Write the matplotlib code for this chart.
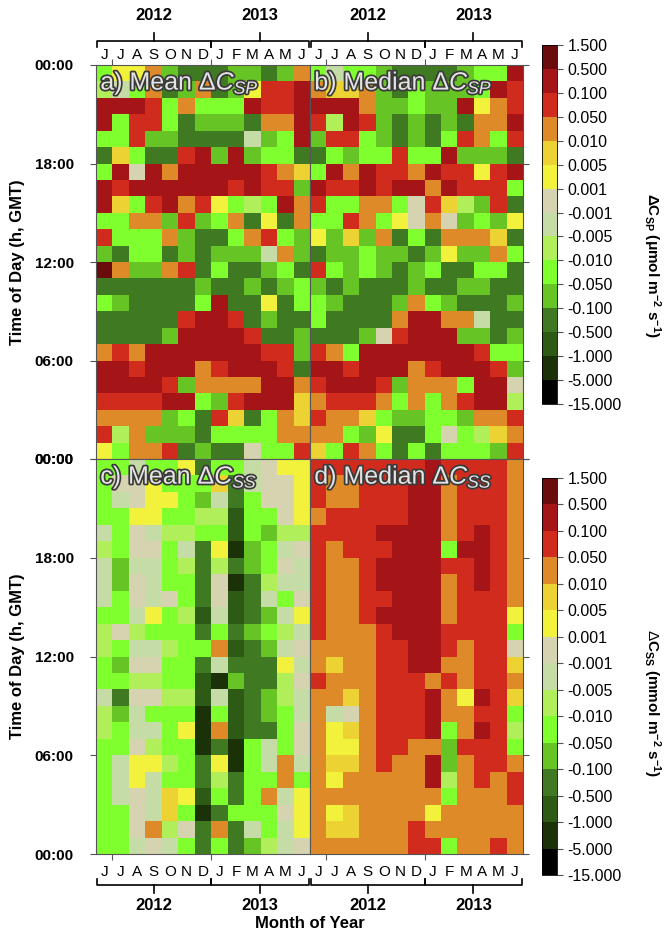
import numpy as np
import matplotlib
matplotlib.use('Agg')
import matplotlib.pyplot as plt
from matplotlib.colors import ListedColormap, BoundaryNorm
from matplotlib import transforms
import matplotlib.patheffects as pe

plt.rcParams['font.family'] = ['Liberation Sans', 'DejaVu Sans']
plt.rcParams['mathtext.fontset'] = 'custom'
plt.rcParams['mathtext.rm'] = 'Liberation Sans'
plt.rcParams['mathtext.it'] = 'Liberation Sans:italic'
plt.rcParams['mathtext.bf'] = 'Liberation Sans:bold'

months = ['J', 'J', 'A', 'S', 'O', 'N', 'D', 'J', 'F', 'M', 'A', 'M', 'J']
years = ['2012', '2013']
hour_ticks = [0, 6, 12, 18, 24]
hour_labels = ['00:00', '06:00', '12:00', '18:00', '00:00']

bounds = [-15, -5, -1, -0.5, -0.1, -0.05, -0.01, -0.005, -0.001,
          0.001, 0.005, 0.01, 0.05, 0.1, 0.5, 1.5]
bound_labels = ['%.3f' % b for b in bounds]
colors = ['#000000', '#1b3108', '#2d5a14', '#3f7a22', '#66c424', '#80ff2e',
          '#b0ef5a', '#c6dca6', '#d5d3b0', '#f2f23c', '#ecd232', '#de8a28',
          '#d12b1e', '#a51416', '#6a0c0c']

# one character per colour class (lowest to highest) and a value inside that class
codes = 'XKDGmglpbydorRM'
code_values = [-10, -3, -0.75, -0.3, -0.075, -0.03, -0.0075, -0.003, 0.0,
               0.003, 0.0075, 0.03, 0.075, 0.3, 1.0]

# rows listed from 23 h (top) down to 0 h, columns Jun 2012 .. Jun 2013
mean_sp = [
    "gyyomGGGmmGmo",
    "lpgoGmoGmyrrR",
    "RRRrgogggRrrR",
    "RgrrgGmmmGooR",
    "ggrmmGGGGpmgR",
    "GdgGGrRmRmggG",
    "gRbRoRRRRRrod",
    "RrRRRRRRrRrrm",
    "RdgrRoryglgRo",
    "ggoomrmgoGyGo",
    "rgggomGGgorgm",
    "mGggGmGmmmpom",
    "MommorGgGGmgG",
    "GGGGGGmGGmGmg",
    "gmGGGGgRGGyGg",
    "GGGGGrRRrGmGG",
    "GGGGmRRRRrGGm",
    "oroRRRRRRRrrm",
    "RRrRRRorRRRrG",
    "RRRRrmooooRRo",
    "rrrrRRgmrRRRd",
    "oooomgGrdGgod",
    "rlommmGggggoo",
    "ygoorGmGGbggr",
]
median_sp = [
    "gpggmGGGGmggR",
    "oddomGgmmmgRr",
    "RRRommgmmRyor",
    "rlRrmGmGmGooR",
    "mrrgmGmGgrogr",
    "GgmggrggRmmmG",
    "gRoRrroRrryrR",
    "RrrRrRRoRrrrg",
    "rggoogbrdlmrG",
    "ggrogybobmgmy",
    "ymdmoGgGooodG",
    "GmmgmmGmymmog",
    "rgmgmGmgGGggG",
    "mGmGGGmGGmmGG",
    "gmGGGmogmGGGm",
    "gGGGGoRRoopGG",
    "GGGmbrRRRmmGm",
    "rogRRRRRRRrgg",
    "RRrRRRorRRRrm",
    "rRRRrmooogRRb",
    "orrrogogorRRl",
    "roodgmmggmoor",
    "oogmyGGgbgldo",
    "dgrogGgGgggmr",
]
mean_ss = [
    "ggpggyGggpbyy",
    "gbbygggdGpbby",
    "gpbyygmpGgbby",
    "ggyyggllDggby",
    "pgbpllggDgmll",
    "lgbbgpGyKmgpb",
    "pmppglGlGmgbp",
    "pmbpggGbKGlpp",
    "pgbpbgGbDGpgb",
    "ggpyglDpDGmpy",
    "lblgggGgGmglp",
    "lgpplggoDGmpb",
    "gmbbggGpGGGyp",
    "ggllggDKmGGlb",
    "pGbbllDpDGmlp",
    "lmpgggKgDGmgp",
    "lgppgyKoDGGgb",
    "ggblggKGKgpgb",
    "gpyylgGyKgpop",
    "gpypggGlGggog",
    "gpbpdyDgGgopy",
    "ggbpdgKGgggby",
    "ggbolbGoGpgpy",
    "ggpbpgGgGmlpb",
]
median_ss = [
    "rrrrrrrRrrrro",
    "roorrrRRorrro",
    "roorrrRRorrro",
    "orrrrrRRorrro",
    "rrrrRRRRorRro",
    "rorrrRRRgRRro",
    "roorRRRRrrRro",
    "roorRRRRorRro",
    "roorrRRRorrro",
    "roorRRRRorrry",
    "rooorRRRrrrrg",
    "oooorrRRrorrb",
    "odoorrRRoorrd",
    "rooorrrororro",
    "oodorrrRoyRrd",
    "opborrrRoorrg",
    "oydorrrRgoRrl",
    "oyyorroomrrrg",
    "oddorooRmorro",
    "oyoooooRloror",
    "oooooooogooor",
    "oydooooyooooo",
    "oddooor" + "oooooo",
    "oooooorrgooro",
]


def to_grid(rows):
    idx = np.array([[codes.index(ch) for ch in row] for row in rows[::-1]])
    return np.array(code_values)[idx]


cmap = ListedColormap(colors)
norm = BoundaryNorm(bounds, cmap.N)

W, H = 664, 932
fig = plt.figure(figsize=(W / 100, H / 100), dpi=100)


def fx(px):
    return px / W


def fy(py):
    return 1 - py / H


def add_panel(x0, x1, y0, y1):
    return fig.add_axes([fx(x0), fy(y1), (x1 - x0) / W, (y1 - y0) / H])


ax_a = add_panel(96, 310, 65, 459)
ax_b = add_panel(310, 523, 65, 459)
ax_c = add_panel(96, 310, 459, 854)
ax_d = add_panel(310, 523, 459, 854)

panels = [
    (ax_a, mean_sp, r'a) Mean $\mathit{\Delta C_{SP}}$', True, True),
    (ax_b, median_sp, r'b) Median $\mathit{\Delta C_{SP}}$', False, True),
    (ax_c, mean_ss, r'c) Mean $\mathit{\Delta C_{SS}}$', True, False),
    (ax_d, median_ss, r'd) Median $\mathit{\Delta C_{SS}}$', False, False),
]

edge = '#555555'
meshes = []
for ax, rows, title, is_left, is_top in panels:
    grid = to_grid(rows)
    m = ax.pcolormesh(np.arange(14), np.arange(25), grid, cmap=cmap, norm=norm)
    meshes.append(m)
    ax.set_xlim(0, 13)
    ax.set_ylim(0, 24)
    for s in ax.spines.values():
        s.set_color(edge)
        s.set_linewidth(0.8)
    ax.set_xticks([1, 7])
    if is_top:
        ax.tick_params(axis='x', top=True, bottom=False, labeltop=False,
                       labelbottom=False, direction='out', length=4, color=edge)
    else:
        ax.tick_params(axis='x', top=False, bottom=True, labeltop=False,
                       labelbottom=False, direction='out', length=4, color=edge)
    ax.set_yticks(hour_ticks)
    if is_left:
        ax.set_yticklabels(hour_labels, fontsize=11, fontweight='bold')
        ax.tick_params(axis='y', direction='out', length=4, color=edge, pad=12)
    else:
        ax.yaxis.tick_right()
        ax.tick_params(axis='y', direction='out', length=4, color=edge,
                       labelright=False)
    t = ax.text(0.02, 0.955, title, transform=ax.transAxes, fontsize=18,
                color='#e4e4e4', ha='left', va='center')
    t.set_path_effects([pe.withStroke(linewidth=2.5, foreground='#3a3a3a')])

    # month letters, year brackets and year labels
    tr = transforms.blended_transform_factory(ax.transData, fig.transFigure)
    if is_top:
        y_mon, y_line, y_end, y_mid, y_year = 55, 41, 47, 33, 16
    else:
        y_mon, y_line, y_end, y_mid, y_year = 872, 885, 879, 893, 905
    for i, mon in enumerate(months):
        ax.text(i + 0.5, fy(y_mon), mon, transform=tr, ha='center',
                va='center', fontsize=11)
    for (x0, x1), yr in zip([(0.05, 7), (7, 12.95)], years):
        ax.plot([x0, x0, x1, x1], [fy(y_end), fy(y_line), fy(y_line), fy(y_end)],
                transform=tr, color='black', lw=1.2, clip_on=False)
        xm = (x0 + x1) / 2
        ax.plot([xm, xm], [fy(y_line), fy(y_mid)], transform=tr,
                color='black', lw=1.2, clip_on=False)
        ax.text(xm, fy(y_year), yr, transform=tr, ha='center', va='center',
                fontsize=12, fontweight='bold')

fig.text(fx(18), fy(262), 'Time of Day (h, GMT)', rotation=90, ha='center',
         va='center', fontsize=12, fontweight='bold')
fig.text(fx(18), fy(656), 'Time of Day (h, GMT)', rotation=90, ha='center',
         va='center', fontsize=12, fontweight='bold')
fig.text(fx(310), fy(923), 'Month of Year', ha='center', va='center',
         fontsize=12, fontweight='bold')

# colour bars
cax1 = fig.add_axes([fx(542), fy(404), 15 / W, 359 / H])
cax2 = fig.add_axes([fx(542), fy(875), 15 / W, 397 / H])
for cax, m in [(cax1, meshes[0]), (cax2, meshes[2])]:
    cb = fig.colorbar(m, cax=cax, ticks=bounds)
    cb.ax.set_yticklabels(bound_labels)
    cb.ax.tick_params(length=4, labelsize=11.5, color=edge)
    cb.outline.set_linewidth(0.6)

fig.text(fx(652), fy(265),
         r'$\mathbf{\Delta C_{SP}}$ (μmol m$^{\mathbf{-2}}$ s$^{\mathbf{-1}}$)',
         rotation=270, ha='center', va='center', fontsize=11, fontweight='bold')
fig.text(fx(652), fy(703),
         r'$\Delta\mathbf{C_{SS}}$ (mmol m$^{\mathbf{-2}}$ s$^{\mathbf{-1}}$)',
         rotation=270, ha='center', va='center', fontsize=11, fontweight='bold')

fig.savefig('out.png', dpi=100)
